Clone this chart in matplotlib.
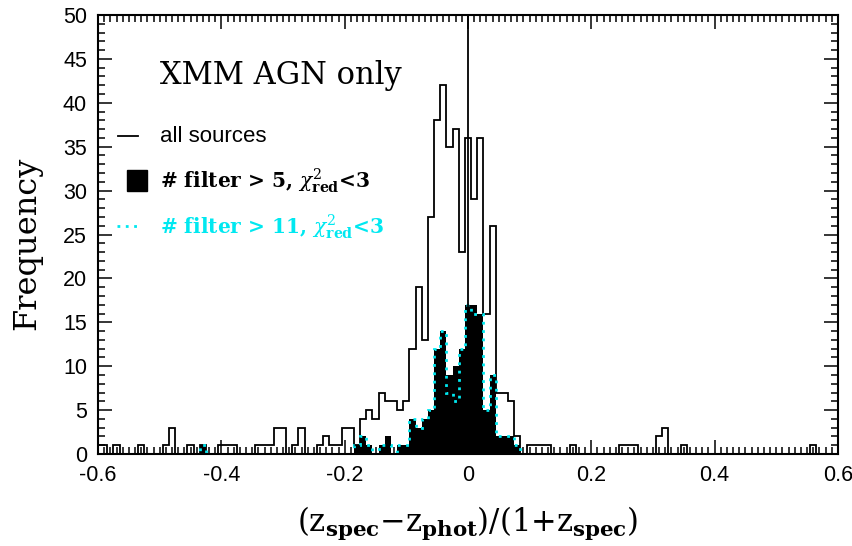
import matplotlib
matplotlib.use("Agg")
import matplotlib.pyplot as plt
import numpy as np
from matplotlib.ticker import MultipleLocator
from matplotlib.patches import Rectangle

# bin centres (0.01 wide bins) and counts
all_x = [-0.60, -0.59, -0.57, -0.53, -0.49, -0.48, -0.45, -0.43, -0.40, -0.39,
         -0.38, -0.34, -0.33, -0.32, -0.31, -0.30, -0.28, -0.27, -0.24, -0.23,
         -0.22, -0.21, -0.20, -0.19, -0.18, -0.17, -0.16, -0.15, -0.14, -0.13,
         -0.12, -0.11, -0.10, -0.09, -0.08, -0.07, -0.06, -0.05, -0.04, -0.03,
         -0.02, -0.01, 0.00, 0.01, 0.02, 0.03, 0.04, 0.05, 0.06, 0.07,
         0.08, 0.10, 0.11, 0.12, 0.13, 0.17, 0.25, 0.26, 0.27, 0.31,
         0.32, 0.35, 0.56]
all_n = [1, 1, 1, 1, 1, 3, 1, 1, 1, 1,
         1, 1, 1, 1, 3, 3, 1, 3, 1, 2,
         1, 1, 3, 3, 1, 4, 5, 4, 7, 6,
         6, 5, 6, 12, 19, 13, 27, 38, 42, 35,
         37, 23, 36, 29, 36, 16, 26, 7, 7, 6,
         2, 1, 1, 1, 1, 1, 1, 1, 1, 2,
         3, 1, 1]

# "# filter > 5, chi2_red < 3"
f5_x = [-0.43, -0.18, -0.17, -0.16, -0.14, -0.13, -0.11, -0.10, -0.09, -0.08,
        -0.07, -0.06, -0.05, -0.04, -0.03, -0.02, -0.01, 0.00, 0.01, 0.02,
        0.03, 0.04, 0.05, 0.06, 0.07, 0.08]
f5_n = [1, 1, 2, 1, 1, 2, 1, 1, 4, 3,
        4, 5, 12, 14, 9, 10, 12, 17, 17, 16,
        5, 9, 2, 2, 2, 1]

# "# filter > 11, chi2_red < 3"
f11_x = f5_x
f11_n = [1, 1, 2, 1, 1, 1, 1, 1, 4, 3,
         4, 5, 12, 14, 7, 6, 12, 17, 16, 16,
         5, 9, 2, 2, 2, 1]

edges = np.round(np.linspace(-0.605, 0.605, 122), 3)


def to_bins(xs, ns):
    h = np.zeros(len(edges) - 1)
    for x, n in zip(xs, ns):
        h[int(round((x + 0.6) * 100))] = n
    return h


h_all = to_bins(all_x, all_n)
h5 = to_bins(f5_x, f5_n)
h11 = to_bins(f11_x, f11_n)

plt.rcParams['mathtext.fontset'] = 'dejavuserif'
cyan = '#00e8f0'

fig = plt.figure(figsize=(8.53, 5.46), dpi=100)
ax = fig.add_axes([0.1149, 0.1685, 0.8675, 0.804])

ax.stairs(h_all, edges, color='black', lw=1.3)
ax.stairs(h5, edges, fill=True, color='black', lw=0)
ax.stairs(h11, edges, color=cyan, lw=2, linestyle=(0, (1, 2)))
ax.axvline(0, color='black', lw=1.3)

ax.set_xlim(-0.6, 0.6)
ax.set_ylim(0, 50)
ax.xaxis.set_minor_locator(MultipleLocator(0.01))
ax.yaxis.set_major_locator(MultipleLocator(5))
ax.yaxis.set_minor_locator(MultipleLocator(1))
ax.set_xticks([-0.6, -0.4, -0.2, 0, 0.2, 0.4, 0.6])
ax.set_xticklabels(['-0.6', '-0.4', '-0.2', '0', '0.2', '0.4', '0.6'])
ax.tick_params(which='both', direction='in', top=True, right=True, width=1.1)
ax.tick_params(which='major', length=10, pad=8, labelsize=15.5)
ax.tick_params(which='minor', length=5)
for lab in ax.get_xticklabels() + ax.get_yticklabels():
    lab.set_family('Liberation Sans')
for s in ax.spines.values():
    s.set_linewidth(1.5)

ax.set_ylabel('Frequency', family='DejaVu Serif', fontsize=23)
ax.yaxis.set_label_coords(-0.075, 0.48)
ax.set_xlabel(r'(z$_{\mathbf{spec}}$$-$z$_{\mathbf{phot}}$)/(1+z$_{\mathbf{spec}}$)',
              family='DejaVu Serif', fontsize=22)
ax.xaxis.set_label_coords(0.5, -0.115)

# title and hand-made legend
ax.text(0.084, 0.863, 'XMM AGN only', transform=ax.transAxes, family='DejaVu Serif',
        fontsize=22, va='center', ha='left')
ax.plot([0.027, 0.054], [0.724, 0.724], color='black', lw=1.3, transform=ax.transAxes)
ax.text(0.084, 0.724, 'all sources', transform=ax.transAxes, family='Liberation Sans',
        fontsize=16, va='center', ha='left')
ax.add_patch(Rectangle((0.039, 0.599), 0.027, 0.048, color='black', transform=ax.transAxes))
ax.text(0.084, 0.620, r'# filter > 5, $\chi^{2}_{\mathbf{red}}$<3', transform=ax.transAxes,
        family='DejaVu Serif', weight='bold', fontsize=14.5, va='center', ha='left')
ax.plot([0.026, 0.06], [0.519, 0.519], color=cyan, lw=2, linestyle=(0, (1, 2)),
        transform=ax.transAxes)
ax.text(0.084, 0.516, r'# filter > 11, $\chi^{2}_{\mathbf{red}}$<3', transform=ax.transAxes,
        family='DejaVu Serif', weight='bold', fontsize=14.5, va='center', ha='left',
        color=cyan)

fig.savefig('out.png', dpi=100)
